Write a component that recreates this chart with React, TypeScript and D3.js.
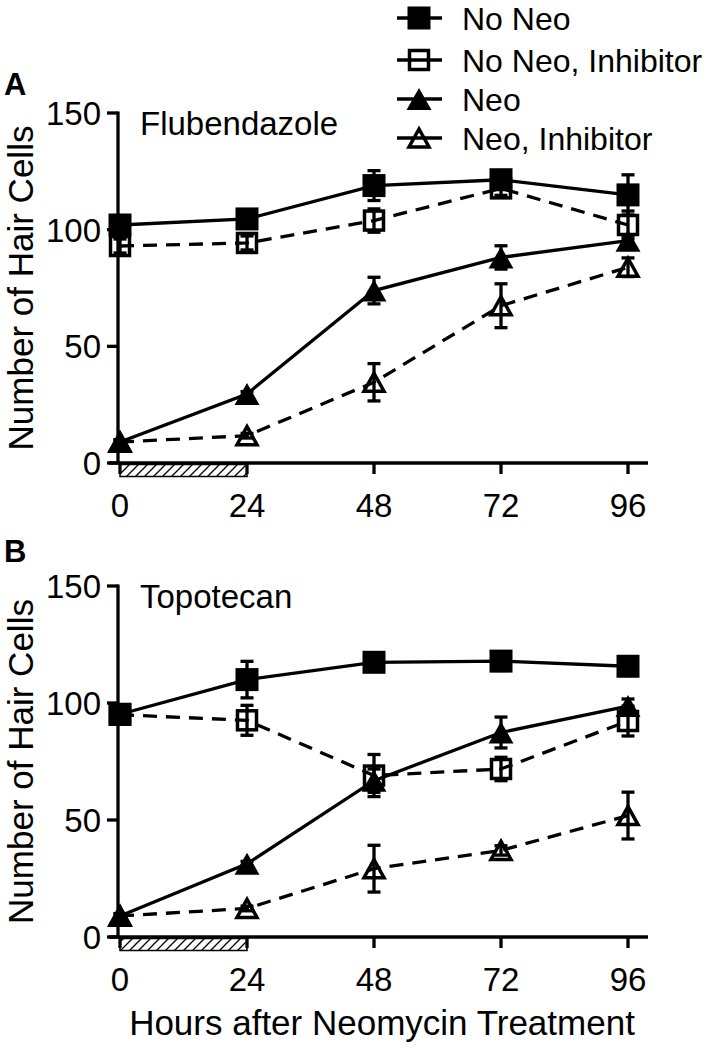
import React from 'react';
import * as d3 from 'd3';

// hours after neomycin treatment
const hours = [0, 24, 48, 72, 96];
const xTicks = [0, 24, 48, 72, 96];
const yTicks = [0, 50, 100, 150];

const seriesNames = ['No Neo', 'No Neo, Inhibitor', 'Neo', 'Neo, Inhibitor'];

// Panel A - Flubendazole
const flubNoNeo = [102, 104.6, 118.9, 121.4, 114.9];
const flubNoNeoErr = [2, 2, 6.4, 3, 8.6];
const flubNoNeoInh = [93, 94.3, 103.9, 117.7, 102];
const flubNoNeoInhErr = [3, 3, 5, 3, 6];
const flubNeo = [9, 29.6, 73.9, 88.1, 95.3];
const flubNeoErr = [1, 1, 5.7, 5, 2];
const flubNeoInh = [9, 11.7, 34.6, 67.4, 83.9];
const flubNeoInhErr = [1, 1, 8, 9.4, 4];

// Panel B - Topotecan
const topoNoNeo = [95.2, 110, 117.4, 117.9, 115.7];
const topoNoNeoErr = [2, 7.8, 2, 4, 2];
const topoNoNeoInh = [95, 92.6, 69, 71.8, 92.3];
const topoNoNeoInhErr = [2, 6.4, 9, 5, 6.4];
const topoNeo = [9, 31.3, 66.8, 87.4, 98.7];
const topoNeoErr = [1, 1, 5, 6.6, 3];
const topoNeoInh = [9, 12.2, 29.2, 37, 51.9];
const topoNeoInhErr = [1, 1, 10, 2, 10];

const FONT = '"Liberation Sans", Arial, Helvetica, sans-serif';
const SW = 3.3;

type Style = { shape: 'square' | 'triangle'; filled: boolean; dashed: boolean };
const styles: Style[] = [
  { shape: 'square', filled: true, dashed: false },
  { shape: 'square', filled: false, dashed: true },
  { shape: 'triangle', filled: true, dashed: false },
  { shape: 'triangle', filled: false, dashed: true },
];

const Marker = ({ x, y, st }: { x: number; y: number; st: Style }) => {
  if (st.shape === 'square') {
    const s = st.filled ? 23 : 19;
    return (
      <rect x={x - s / 2} y={y - s / 2} width={s} height={s}
        fill={st.filled ? '#000' : 'none'} stroke="#000" strokeWidth={st.filled ? 0 : 3.5} />
    );
  }
  const w = st.filled ? 25 : 20, h = st.filled ? 22 : 18;
  const pts = `${x},${y - h / 2} ${x + w / 2},${y + h / 2} ${x - w / 2},${y + h / 2}`;
  return (
    <polygon points={pts} fill={st.filled ? '#000' : 'none'} stroke="#000"
      strokeWidth={st.filled ? 0 : 3.5} strokeLinejoin="miter" />
  );
};

const xScale = d3.scaleLinear().domain([0, 96]).range([120, 628]);

interface PanelProps {
  top: number; // pixel y of value 150
  bottom: number; // pixel y of value 0
  letter: string;
  letterY: number;
  drug: string;
  values: number[][];
  errors: number[][];
}

const Panel = ({ top, bottom, letter, letterY, drug, values, errors }: PanelProps) => {
  const y = d3.scaleLinear().domain([0, 150]).range([bottom, top]);
  const axisX = 118;
  const line = d3.line<number>().x((_, i) => xScale(hours[i])).y(v => y(v));
  const hatchId = `hatch-${letter}`;
  return (
    <g>
      <defs>
        <pattern id={hatchId} patternUnits="userSpaceOnUse" width={9} height={9}>
          <path d="M-2,11 L11,-2 M-2,2 L2,-2 M7,11 L11,7" stroke="#000" strokeWidth={1.3} />
        </pattern>
      </defs>
      <text x={4} y={letterY} fontFamily={FONT} fontWeight="bold" fontSize={31}>{letter}</text>
      <text x={140} y={top + 22} fontFamily={FONT} fontSize={33}>{drug}</text>
      {/* y axis */}
      <line x1={axisX} x2={axisX} y1={top - 1.5} y2={bottom} stroke="#000" strokeWidth={SW} />
      {yTicks.map(t => (
        <g key={t}>
          <line x1={axisX - 11} x2={axisX} y1={y(t)} y2={y(t)} stroke="#000" strokeWidth={SW} />
          <text x={101} y={y(t) + 12} textAnchor="end" fontFamily={FONT} fontSize={33}>{t}</text>
        </g>
      ))}
      <text transform={`translate(33,${(top + bottom) / 2}) rotate(-90)`} textAnchor="middle"
        fontFamily={FONT} fontSize={35}>Number of Hair Cells</text>
      {/* x axis */}
      <line x1={109} x2={648} y1={bottom} y2={bottom} stroke="#000" strokeWidth={SW} />
      {xTicks.map(t => (
        <g key={t}>
          <line x1={xScale(t)} x2={xScale(t)} y1={bottom} y2={bottom + 11} stroke="#000" strokeWidth={SW} />
          <text x={xScale(t)} y={bottom + 54} textAnchor="middle" fontFamily={FONT} fontSize={33}>{t}</text>
        </g>
      ))}
      <rect x={xScale(0)} y={bottom + 1.5} width={xScale(24) - xScale(0)} height={12}
        fill={`url(#${hatchId})`} stroke="#000" strokeWidth={1.5} />
      {/* lines */}
      {values.map((vals, si) => (
        <path key={`l${si}`} d={line(vals) || ''} fill="none" stroke="#000" strokeWidth={SW}
          strokeDasharray={styles[si].dashed ? '14,9' : undefined} />
      ))}
      {/* error bars */}
      {values.map((vals, si) => vals.map((v, i) => {
        const e = errors[si][i];
        const cx = xScale(hours[i]);
        return (
          <g key={`e${si}-${i}`} stroke="#000" strokeWidth={SW}>
            <line x1={cx} x2={cx} y1={y(v + e)} y2={y(v - e)} />
            <line x1={cx - 6.5} x2={cx + 6.5} y1={y(v + e)} y2={y(v + e)} />
            <line x1={cx - 6.5} x2={cx + 6.5} y1={y(v - e)} y2={y(v - e)} />
          </g>
        );
      }))}
      {/* markers */}
      {values.map((vals, si) => vals.map((v, i) => (
        <Marker key={`m${si}-${i}`} x={xScale(hours[i])} y={y(v)} st={styles[si]} />
      )))}
    </g>
  );
};

const legendRows = [18, 60, 99, 138];

const Legend = () => (
  <g>
    {seriesNames.map((name, i) => {
      const cy = legendRows[i];
      return (
        <g key={name}>
          <line x1={397} x2={442} y1={cy} y2={cy} stroke="#000" strokeWidth={SW} />
          <Marker x={419} y={cy} st={styles[i]} />
          <text x={462} y={cy + 12} fontFamily={FONT} fontSize={32}>{name}</text>
        </g>
      );
    })}
  </g>
);

export default function App() {
  return (
    <svg width={710} height={1050} style={{ position: 'absolute', left: 0, top: 0, background: '#fff' }}>
      <rect width={710} height={1050} fill="#fff" />
      <Legend />
      <Panel top={113} bottom={463} letter="A" letterY={95} drug="Flubendazole"
        values={[flubNoNeo, flubNoNeoInh, flubNeo, flubNeoInh]}
        errors={[flubNoNeoErr, flubNoNeoInhErr, flubNeoErr, flubNeoInhErr]} />
      <Panel top={586} bottom={937} letter="B" letterY={562} drug="Topotecan"
        values={[topoNoNeo, topoNoNeoInh, topoNeo, topoNeoInh]}
        errors={[topoNoNeoErr, topoNoNeoInhErr, topoNeoErr, topoNeoInhErr]} />
      <text x={382} y={1035} textAnchor="middle" fontFamily={FONT} fontSize={35}>
        Hours after Neomycin Treatment
      </text>
    </svg>
  );
}
